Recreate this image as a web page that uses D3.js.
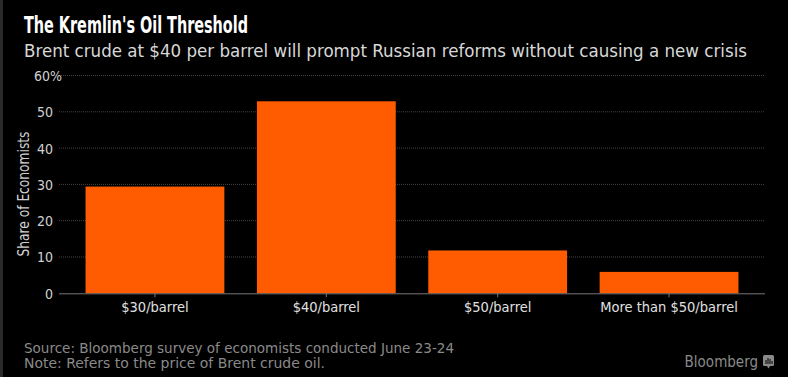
<!DOCTYPE html>
<html><head><meta charset="utf-8">
<script src="https://cdn.jsdelivr.net/npm/d3@7/dist/d3.min.js"></script>
<style>
html,body{margin:0;padding:0;background:#000;}
svg{display:block;}
text{font-family:"DejaVu Sans Condensed","DejaVu Sans",sans-serif;}
</style></head>
<body><svg id="c" width="788" height="377"></svg>
<script>
const categories = ["$30/barrel", "$40/barrel", "$50/barrel", "More than $50/barrel"];
const shares = [29.4, 52.9, 11.8, 5.9];
const yTicks = [0, 10, 20, 30, 40, 50, 60];

const svg = d3.select("#c");
svg.append("rect").attr("width",788).attr("height",377).attr("fill","#000");
svg.append("rect").attr("width",3).attr("height",377).attr("fill","#2a2a2a");

const x = d3.scaleBand().domain(categories).range([59,765]).paddingInner(0.19).paddingOuter(0.155);
const y = d3.scaleLinear().domain([0,60]).range([293.3,75.5]);

// title
svg.append("text").attr("x",24).attr("y",33).attr("fill","#fff")
  .attr("font-size",23).attr("font-weight","bold")
  .attr("textLength",224).attr("lengthAdjust","spacingAndGlyphs")
  .text("The Kremlin's Oil Threshold");
svg.append("text").attr("x",24).attr("y",57).attr("fill","#d8d8d8")
  .attr("font-size",17)
  .attr("textLength",723).attr("lengthAdjust","spacingAndGlyphs")
  .text("Brent crude at $40 per barrel will prompt Russian reforms without causing a new crisis");

// gridlines
svg.append("g").selectAll("line").data(yTicks.filter(d=>d>0)).join("line")
  .attr("x1",59).attr("x2",765).attr("y1",d=>y(d)).attr("y2",d=>y(d))
  .attr("stroke","#444").attr("stroke-width",1).attr("stroke-dasharray","1,1");

// y axis labels
const yAxis = d3.axisLeft(y).tickValues(yTicks).tickSize(0).tickPadding(0)
  .tickFormat(d=>d===60?"60%":String(d));
const gy = svg.append("g").attr("transform","translate(53,0)").call(yAxis);
gy.select(".domain").remove();
gy.selectAll("text").attr("fill","#d0d0d0").attr("font-size",14)
  .attr("font-family","'DejaVu Sans Condensed','DejaVu Sans',sans-serif")
  .attr("text-anchor","end").attr("dy","0.35em")
  .attr("dx",d=>d===60?9:0);

// y title
svg.append("text").attr("transform","translate(29,194) rotate(-90)")
  .attr("text-anchor","middle").attr("fill","#d0d0d0").attr("font-size",15)
  .attr("textLength",125).attr("lengthAdjust","spacingAndGlyphs")
  .text("Share of Economists");

// bars
svg.append("g").selectAll("rect").data(categories).join("rect")
  .attr("x",d=>x(d)).attr("width",x.bandwidth())
  .attr("y",(d,i)=>y(shares[i])).attr("height",(d,i)=>y(0)-y(shares[i]))
  .attr("fill","#ff5b00");

// x axis
const xAxis = d3.axisBottom(x).tickSize(4).tickPadding(4);
const gx = svg.append("g").attr("transform",`translate(0,${y(0)})`).call(xAxis);
gx.select(".domain").attr("d","M59,0.5H765").attr("stroke","#777");
gx.selectAll(".tick line").attr("stroke","#777");
gx.selectAll("text").attr("fill","#e0e0e0").attr("font-size",14.5)
  .attr("font-family","'DejaVu Sans Condensed','DejaVu Sans',sans-serif");

// footer
svg.append("text").attr("x",24).attr("y",353).attr("fill","#8a8a8a").attr("font-size",14)
  .attr("textLength",430).attr("lengthAdjust","spacingAndGlyphs")
  .text("Source: Bloomberg survey of economists conducted June 23-24");
svg.append("text").attr("x",24).attr("y",368).attr("fill","#8a8a8a").attr("font-size",14)
  .attr("textLength",301).attr("lengthAdjust","spacingAndGlyphs")
  .text("Note: Refers to the price of Brent crude oil.");
svg.append("text").attr("x",758).attr("y",367).attr("text-anchor","end")
  .attr("fill","#8a8a8a").attr("font-size",15).attr("font-weight","500")
  .attr("font-family","Roboto,'Noto Sans',sans-serif")
  .text("Bloomberg");
// small logo
const lg = svg.append("g").attr("transform","translate(763,355)");
lg.append("rect").attr("width",11).attr("height",11).attr("rx",1.5).attr("fill","#8a8a8a");
lg.append("path").attr("d","M4,11 L5.5,13.5 L7,11Z").attr("fill","#8a8a8a");
[[2.5,5,4],[4.5,3,6],[6.5,4,5],[8.5,6,3]].forEach(b=>{
  lg.append("rect").attr("x",b[0]).attr("y",b[1]).attr("width",1).attr("height",b[2]).attr("fill","#000");
});
</script></body></html>
